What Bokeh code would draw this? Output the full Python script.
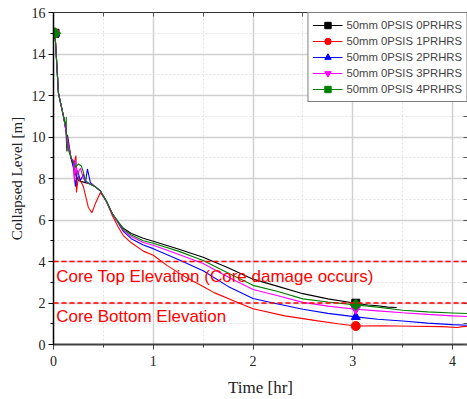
from bokeh.plotting import figure
from bokeh.models import (LinearAxis, SingleIntervalTicker, FixedTicker, Span, Label,
                          Legend, LegendItem, ColumnDataSource)
from bokeh.embed import file_html
from bokeh.resources import INLINE
import math

# Collapsed level [m] vs time [hr] for each PRHRS case
t_0prhrs = [0.015, 0.05, 0.10, 0.125, 0.135, 0.14, 0.175, 0.20, 0.22, 0.25, 0.28, 0.32, 0.36,
            0.42, 0.47, 0.53, 0.59, 0.65, 0.70, 0.78, 0.90, 1.0, 1.25, 1.5, 1.75, 2.0, 2.25,
            2.5, 2.75, 3.03, 3.15, 3.25, 3.35, 3.44]
y_0prhrs = [15.0, 12.1, 11.0, 10.4, 9.3, 10.1, 9.0, 8.7, 8.2, 7.9, 7.85, 7.8, 7.75,
            7.6, 7.4, 6.9, 6.3, 5.9, 5.6, 5.35, 5.12, 4.98, 4.6, 4.2, 3.7, 3.15, 2.8,
            2.45, 2.2, 1.99, 1.9, 1.87, 1.8, 1.78]

t_1prhrs = [0.015, 0.05, 0.10, 0.135, 0.175, 0.20, 0.225, 0.23, 0.25, 0.30, 0.35, 0.385,
            0.42, 0.47, 0.53, 0.59, 0.65, 0.70, 0.78, 0.90, 1.0, 1.14, 1.34, 1.5, 1.61, 1.81,
            2.0, 2.32, 2.65, 2.85, 3.03, 3.3, 3.6, 3.9, 4.05, 4.1, 4.2]
y_1prhrs = [15.0, 12.1, 11.0, 10.0, 9.0, 8.6, 9.1, 7.33, 8.1, 7.6, 6.6, 6.35,
            6.8, 7.33, 6.9, 6.2, 5.65, 5.25, 4.9, 4.5, 4.3, 3.8, 3.2, 2.8, 2.5, 2.1,
            1.72, 1.38, 1.14, 1.0, 0.89, 0.9, 0.88, 0.86, 0.82, 0.86, 0.88]

t_2prhrs = [0.015, 0.05, 0.10, 0.135, 0.175, 0.20, 0.22, 0.24, 0.27, 0.30, 0.32, 0.34,
            0.37, 0.42, 0.47, 0.53, 0.59, 0.65, 0.70, 0.78, 0.90, 1.0, 1.25, 1.5, 1.75, 2.0,
            2.25, 2.5, 2.75, 3.03, 3.25, 3.5, 3.75, 4.0, 4.2]
y_2prhrs = [15.0, 12.1, 11.0, 10.0, 9.0, 8.5, 7.6, 8.4, 7.9, 8.2, 7.8, 8.46,
            7.8, 7.6, 7.4, 6.9, 6.3, 5.85, 5.45, 5.1, 4.8, 4.62, 4.1, 3.55, 2.8, 2.22,
            1.95, 1.7, 1.5, 1.33, 1.22, 1.13, 1.03, 0.96, 0.92]

t_3prhrs = [0.015, 0.05, 0.10, 0.135, 0.175, 0.20, 0.21, 0.22, 0.24, 0.27, 0.30, 0.34,
            0.37, 0.42, 0.47, 0.53, 0.59, 0.65, 0.70, 0.78, 0.90, 1.0, 1.25, 1.5, 1.75, 2.0,
            2.25, 2.5, 2.75, 3.03, 3.25, 3.5, 3.75, 4.0, 4.2]
y_3prhrs = [15.0, 12.1, 11.0, 10.0, 9.0, 8.86, 7.82, 8.9, 8.2, 8.5, 8.0, 7.8,
            7.75, 7.6, 7.4, 6.9, 6.3, 5.88, 5.5, 5.2, 4.92, 4.78, 4.35, 3.9, 3.25, 2.65,
            2.35, 2.03, 1.85, 1.70, 1.62, 1.53, 1.45, 1.38, 1.34]

t_4prhrs = [0.015, 0.05, 0.10, 0.125, 0.128, 0.13, 0.175, 0.20, 0.22, 0.25, 0.28, 0.30,
            0.32, 0.36, 0.42, 0.47, 0.53, 0.59, 0.65, 0.70, 0.78, 0.90, 1.0, 1.25, 1.5, 1.75,
            2.0, 2.25, 2.5, 2.75, 3.03, 3.25, 3.5, 3.75, 4.0, 4.2]
y_4prhrs = [15.0, 12.1, 11.0, 10.5, 10.96, 9.7, 9.0, 8.78, 8.54, 8.7, 8.6, 8.3,
            7.9, 7.75, 7.6, 7.4, 6.9, 6.3, 5.9, 5.55, 5.28, 5.0, 4.88, 4.5, 4.05, 3.45,
            2.85, 2.55, 2.2, 2.05, 1.91, 1.8, 1.65, 1.57, 1.52, 1.48]

series_names = ["50mm 0PSIS 0PRHRS", "50mm 0PSIS 1PRHRS", "50mm 0PSIS 2PRHRS",
                "50mm 0PSIS 3PRHRS", "50mm 0PSIS 4PRHRS"]
series_t = [t_0prhrs, t_1prhrs, t_2prhrs, t_3prhrs, t_4prhrs]
series_y = [y_0prhrs, y_1prhrs, y_2prhrs, y_3prhrs, y_4prhrs]
marker_times = [0.015, 3.03]   # symbols are placed on these samples of each curve

colors = ["#000000", "#ff0000", "#0000ff", "#ff00ff", "#008000"]
markers = ["square", "circle", "triangle", "inverted_triangle", "square"]
angles = [0, 0, 0, 0, math.pi / 4]
msizes = [8, 9, 9, 9, 8]

core_top = 4.0
core_bottom = 2.0

serif = "Liberation Serif"
sans = "Liberation Sans"

p = figure(width=467, height=399, x_range=(0, 4.15), y_range=(0, 16),
           output_backend="svg", toolbar_location=None,
           min_border_left=53, min_border_right=0, min_border_top=12,
           min_border_bottom=55)
p.outline_line_color = None
p.background_fill_color = "white"

xt = SingleIntervalTicker(interval=1, num_minor_ticks=2)
yt = SingleIntervalTicker(interval=2, num_minor_ticks=2)

ax = p.xaxis[0]
ax.ticker = xt
ax.axis_label = "Time [hr]"
ay = p.yaxis[0]
ay.ticker = yt
ay.axis_label = "Collapsed Level [m]"
for a in (ax, ay):
    a.axis_label_text_font = serif
    a.axis_label_text_font_style = "normal"
    a.major_label_text_font = serif
    a.major_label_text_font_size = "14px"
    a.major_label_text_color = "#222222"
    a.axis_label_text_color = "#222222"
    a.major_tick_in = 0
    a.major_tick_out = 5
    a.minor_tick_in = 0
    a.minor_tick_out = 3
ax.axis_label_text_font_size = "17px"
ay.axis_label_text_font_size = "15px"
ax.axis_line_color = "#404040"
ax.axis_line_width = 2
ax.major_tick_line_color = "#404040"
ax.minor_tick_line_color = "#404040"
ax.major_label_standoff = 6
ax.axis_label_standoff = 9
ay.axis_line_color = "#000000"
ay.axis_line_width = 1.5
ay.major_label_standoff = 3
ay.axis_label_standoff = 4

# frame borders on top and right with short inward ticks and no labels
top_ticks = [i * 0.5 for i in range(9)]
right_ticks = [float(i) for i in range(17)]
top = LinearAxis(ticker=FixedTicker(ticks=[], minor_ticks=top_ticks))
right = LinearAxis(ticker=FixedTicker(ticks=[], minor_ticks=right_ticks))
for a in (top, right):
    a.major_label_standoff = 0
    a.axis_label_standoff = 0
    a.major_tick_in = 0
    a.major_tick_out = 0
    a.minor_tick_in = 4
    a.minor_tick_out = 0
    a.axis_line_color = "#333333"
    a.minor_tick_line_color = "#555555"
p.add_layout(top, "above")
p.add_layout(right, "right")

p.xgrid.grid_line_color = "#d0d0d0"
p.xgrid.grid_line_width = 1.5
p.ygrid.grid_line_color = "#d0d0d0"
p.ygrid.grid_line_width = 1.5
p.xgrid.minor_grid_line_color = "#e2e2e2"
p.ygrid.minor_grid_line_color = "#e2e2e2"
p.xgrid.minor_grid_line_dash = "2 2"
p.ygrid.minor_grid_line_dash = "2 2"

# core elevation limits
for lvl in (core_top, core_bottom):
    p.add_layout(Span(location=lvl, dimension="width", line_color="#ff0000",
                      line_width=1.5, line_dash="5 3"))

p.add_layout(Label(x=0.027, y=3.3, text="Core Top Elevation (Core damage occurs)",
                   text_color="#ff0000", text_font=sans, text_font_size="17px",
                   text_baseline="alphabetic"))
p.add_layout(Label(x=0.027, y=1.36, text="Core Bottom Elevation",
                   text_color="#ff0000", text_font=sans, text_font_size="17px",
                   text_baseline="alphabetic"))

items = []
for name, ts, ys, c, m, ang, ms in zip(series_names, series_t, series_y, colors,
                                       markers, angles, msizes):
    lr = p.line(ts, ys, line_color=c, line_width=1.1)
    idx = [ts.index(mt) for mt in marker_times]
    src = ColumnDataSource(dict(t=[ts[i] for i in idx], y=[ys[i] for i in idx]))
    sr = p.scatter("t", "y", source=src, marker=m, size=ms, angle=ang,
                   fill_color=c, line_color=c)
    items.append(LegendItem(label=name, renderers=[lr, sr]))

legend = Legend(items=items, location="top_right", margin=0, padding=4,
                spacing=0, glyph_width=30, glyph_height=16, label_height=16,
                label_standoff=4, label_text_font=sans,
                label_text_font_size="11.3px", border_line_color="#000000",
                border_line_width=1, background_fill_color="white",
                background_fill_alpha=1.0)
p.add_layout(legend)

open("out.html", "w").write(file_html(p, INLINE))
